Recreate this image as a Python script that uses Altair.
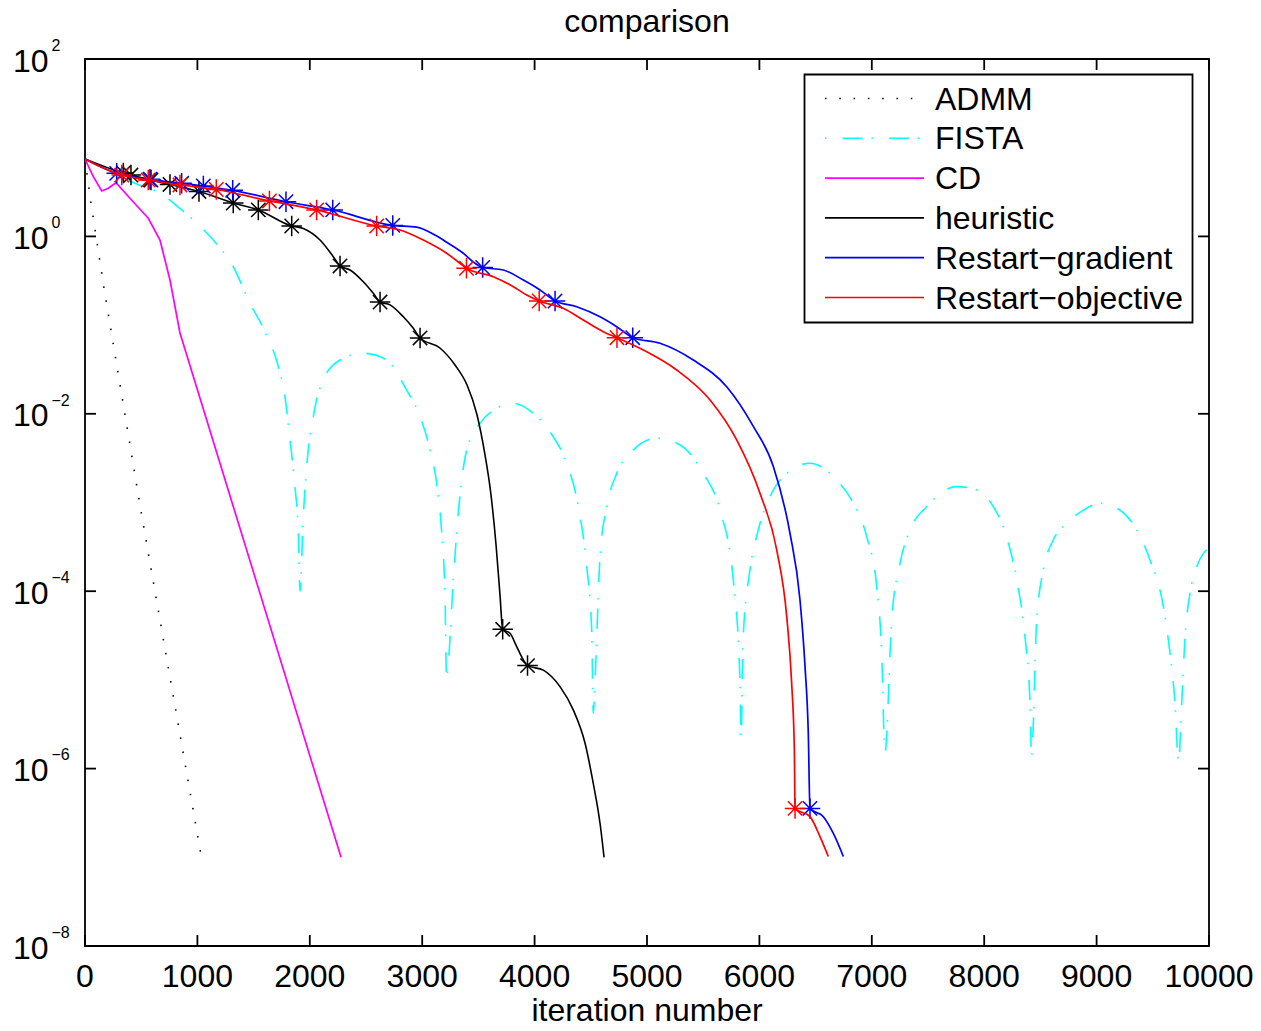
import altair as alt
import pandas as pd

# ---------------- data ----------------
series_names = ["ADMM", "FISTA", "CD", "heuristic", "Restart\u2212gradient", "Restart\u2212objective"]

admm_x = [0, 53, 169, 496, 1029]
admm_y = [7.46, 2.38, 0.262, 8.3e-4, 1.12e-7]

fista_x = [0, 222, 445, 667, 860, 994, 1141, 1319, 1468, 1601,
           1720, 1779, 1824, 1868, 1898, 1913, 1942, 1972, 2031, 2106,
           2269, 2476, 2684, 2862, 2981, 3070, 3129, 3174, 3203, 3216,
           3277, 3321, 3396, 3514, 3663, 3811, 3989, 4166, 4286, 4389,
           4464, 4508, 4522, 4538, 4582, 4642, 4731, 4878, 5086, 5294,
           5501, 5650, 5768, 5827, 5836, 5856, 5916, 5990, 6094, 6243,
           6450, 6688, 6835, 6955, 7044, 7088, 7117, 7177, 7251, 7340,
           7489, 7755, 7933, 8081, 8200, 8289, 8363, 8408, 8421, 8467,
           8526, 8615, 8734, 8882, 9030, 9208, 9357, 9475, 9594, 9653,
           9698, 9729, 9757, 9787, 9831, 9891, 9950, 10000]
fista_y = [7.46, 5.46, 3.97, 3.06, 1.99, 1.41, 0.91, 0.455, 0.176, 0.0843,
           0.034, 0.0156, 5.07e-3, 1.51e-3, 4.5e-4, 1.0e-4, 6.9e-4, 2.53e-3, 9.3e-3, 0.0221,
           0.0404, 0.0481, 0.0404, 0.0185, 9.3e-3, 3.9e-3, 1.64e-3, 4.5e-4, 8.7e-5, 1.08e-5,
           1.34e-4, 7.6e-4, 3.9e-3, 7.8e-3, 0.0115, 0.0131, 0.0101, 5.5e-3, 2.77e-3, 9.0e-4,
           1.89e-4, 3.66e-5, 4.2e-6, 1.0e-5, 2.45e-4, 9.0e-4, 2.13e-3, 3.9e-3, 5.3e-3, 4.45e-3,
           2.13e-3, 8.2e-4, 1.34e-4, 1.0e-5, 2.2e-6, 3.07e-5, 1.73e-4, 4.9e-4, 1.16e-3, 2.13e-3,
           2.77e-3, 1.79e-3, 9.8e-4, 4.1e-4, 1.12e-4, 2.0e-5, 1.5e-6, 4.7e-5, 2.06e-4, 4.9e-4,
           9.0e-4, 1.51e-3, 1.38e-3, 9.0e-4, 4.1e-4, 1.34e-4, 3.07e-5, 5.4e-6, 1.42e-6, 4.7e-5,
           1.73e-4, 3.8e-4, 5.8e-4, 8.2e-4, 9.8e-4, 8.2e-4, 4.9e-4, 2.25e-4, 6.7e-5, 2.0e-5,
           5.4e-6, 1.16e-6, 5.4e-6, 3.07e-5, 9.5e-5, 1.89e-4, 2.67e-4, 3.07e-4]

cd_x = [0, 74, 149, 207, 276, 400, 563, 667, 756, 845, 2278]
cd_y = [7.46, 4.71, 3.25, 3.49, 4.03, 2.69, 1.60, 0.91, 0.322, 0.0815, 1.0e-7]

heur_x = [0, 341, 409, 587, 756, 1014, 1319, 1542, 1839, 1942,
          2091, 2209, 2269, 2358, 2476, 2565, 2625, 2714, 2832, 2921,
          2981, 3158, 3292, 3399, 3488, 3559, 3612, 3657, 3692, 3716,
          3781, 3841, 3900, 3937, 4078, 4226, 4344, 4449, 4522, 4582,
          4618]
heur_y = [7.46, 5.19, 4.92, 4.32, 3.85, 3.21, 2.38, 1.99, 1.31, 1.23,
          0.91, 0.59, 0.464, 0.418, 0.308, 0.228, 0.182, 0.169, 0.124, 0.092,
          0.0716, 0.0552, 0.0355, 0.0211, 9.7e-3, 3.43e-3, 1.22e-3, 3.32e-4, 9.1e-5, 3.72e-5,
          3.35e-5, 2.37e-5, 1.68e-5, 1.45e-5, 1.29e-5, 8.4e-6, 4.6e-6, 1.93e-6, 6.8e-7, 2.42e-7,
          1.0e-7]
heur_star_x = [341, 409, 587, 756, 1014, 1319, 1542, 1839, 2269, 2625, 2981, 3716, 3937]
heur_star_y = [5.19, 4.92, 4.32, 3.85, 3.21, 2.38, 1.99, 1.31, 0.464, 0.182, 0.0716, 3.72e-5, 1.45e-5]

rg_x = [0, 282, 578, 860, 1053, 1314, 1788, 2204, 2738, 2951,
        3117, 3236, 3366, 3470, 3538, 3722, 3900, 4048, 4182, 4375,
        4582, 4730, 4873, 5116, 5412, 5709, 5946, 6124, 6272, 6361,
        6406, 6435, 6450, 6569, 6658, 6747]
rg_y = [7.46, 5.14, 4.40, 3.97, 3.70, 3.31, 2.46, 1.99, 1.33, 1.27,
        1.03, 0.83, 0.645, 0.498, 0.446, 0.418, 0.322, 0.249, 0.187, 0.161,
        0.124, 0.096, 0.0721, 0.0624, 0.0404, 0.0202, 7.2e-3, 2.54e-3, 4.5e-4, 8.0e-5,
        1.41e-5, 2.5e-6, 3.56e-7, 2.87e-7, 1.86e-7, 1.02e-7]
rg_star_x = [282, 578, 860, 1053, 1314, 1788, 2204, 2738, 3538, 4182, 4873, 6450]
rg_star_y = [5.14, 4.40, 3.97, 3.70, 3.31, 2.46, 1.99, 1.33, 0.446, 0.187, 0.0721, 3.56e-7]

ro_x = [0, 327, 563, 845, 1168, 1641, 2061, 2595, 2803, 3010,
        3218, 3336, 3394, 3633, 3811, 3930, 4041, 4255, 4433, 4611,
        4733, 4967, 5264, 5561, 5798, 6005, 6154, 6243, 6287, 6311,
        6317, 6450, 6539, 6613]
ro_y = [7.46, 4.92, 4.32, 3.80, 3.38, 2.51, 1.99, 1.31, 1.18, 0.91,
        0.645, 0.498, 0.437, 0.351, 0.271, 0.218, 0.187, 0.155, 0.114, 0.0843,
        0.0721, 0.0524, 0.0312, 0.0143, 5.07e-3, 1.27e-3, 2.92e-4, 5.2e-5, 9.2e-6, 1.62e-6,
        3.56e-7, 2.87e-7, 1.71e-7, 1.02e-7]
ro_star_x = [327, 563, 845, 1168, 1641, 2061, 2595, 3394, 4041, 4733, 6317]
ro_star_y = [4.92, 4.32, 3.80, 3.38, 2.51, 1.99, 1.31, 0.437, 0.187, 0.0721, 3.56e-7]

xtick_values = [0, 1000, 2000, 3000, 4000, 5000, 6000, 7000, 8000, 9000, 10000]
xtick_labels = ["0", "1000", "2000", "3000", "4000", "5000", "6000", "7000", "8000", "9000", "10000"]
ytick_values = [1e2, 1e0, 1e-2, 1e-4, 1e-6, 1e-8]
ytick_exponents = ["2", "0", "\u22122", "\u22124", "\u22126", "\u22128"]

title_text = "comparison"
xlabel_text = "iteration number"

# ---------------- styling ----------------
W, H = 1124, 887
FONT = "Liberation Sans"
FS = 32
AXW = 1.8
colors = ["#000000", "#00FFFF", "#FF00FF", "#000000", "#0000FF", "#FF0000"]
dashes = [[1.5, 12.8], [20, 9, 1.5, 16], None, None, None, None]
legend_dash_offset = [0, 29, 0, 0, 0, 0]
widths = [1.6, 1.6, 1.7, 1.6, 1.7, 1.7]
STAR = "M-1,0L1,0M0,-1L0,1M-0.7,-0.7L0.7,0.7M-0.7,0.7L0.7,-0.7"

xscale = alt.Scale(domain=[0, 10000], nice=False, zero=False)
yscale = alt.Scale(type="log", domain=[1e-8, 1e2], nice=False)


def frame(xs, ys):
    assert len(xs) == len(ys)
    return pd.DataFrame({"x": xs, "y": ys, "i": list(range(len(xs)))})


def line(xs, ys, k, interp):
    kw = dict(color=colors[k], strokeWidth=widths[k], interpolate=interp, clip=True)
    if dashes[k]:
        kw["strokeDash"] = dashes[k]
    return alt.Chart(frame(xs, ys)).mark_line(**kw).encode(
        x=alt.X("x:Q", scale=xscale, axis=None),
        y=alt.Y("y:Q", scale=yscale, axis=None),
        order="i:Q",
    )


def stars(xs, ys, k):
    return alt.Chart(frame(xs, ys)).mark_point(
        shape=STAR, size=420, filled=False, color=colors[k],
        strokeWidth=1.5, opacity=1).encode(
        x=alt.X("x:Q", scale=xscale, axis=None),
        y=alt.Y("y:Q", scale=yscale, axis=None),
    )


layers = [
    line(admm_x, admm_y, 0, "linear"),
    line(fista_x, fista_y, 1, "monotone"),
    line(cd_x, cd_y, 2, "linear"),
    line(heur_x, heur_y, 3, "monotone"),
    stars(heur_star_x, heur_star_y, 3),
    line(rg_x, rg_y, 4, "monotone"),
    stars(rg_star_x, rg_star_y, 4),
    line(ro_x, ro_y, 5, "monotone"),
    stars(ro_star_x, ro_star_y, 5),
]

# ---------------- ticks (inward, on all four sides) ----------------
TL = 11
xt = pd.DataFrame({"v": xtick_values, "lab": xtick_labels})
yt = pd.DataFrame({"v": ytick_values, "e": ytick_exponents, "base": ["10"] * len(ytick_values)})
xenc = alt.X("v:Q", scale=xscale, axis=None)
yenc = alt.Y("v:Q", scale=yscale, axis=None)

layers += [
    alt.Chart(xt).mark_rule(color="black", strokeWidth=AXW).encode(x=xenc, y=alt.value(H), y2=alt.value(H - TL)),
    alt.Chart(xt).mark_rule(color="black", strokeWidth=AXW).encode(x=xenc, y=alt.value(0), y2=alt.value(TL)),
    alt.Chart(yt).mark_rule(color="black", strokeWidth=AXW).encode(y=yenc, x=alt.value(0), x2=alt.value(TL)),
    alt.Chart(yt).mark_rule(color="black", strokeWidth=AXW).encode(y=yenc, x=alt.value(W - TL), x2=alt.value(W)),
    alt.Chart(xt).mark_text(align="center", baseline="alphabetic", font=FONT, fontSize=FS, color="black").encode(
        x=xenc, y=alt.value(H + 41), text="lab:N"),
    alt.Chart(yt).mark_text(align="right", baseline="alphabetic", font=FONT, fontSize=FS, color="black", dy=12.5).encode(
        y=yenc, x=alt.value(-36.5), text="base:N"),
    alt.Chart(yt).mark_text(align="left", baseline="alphabetic", font=FONT, fontSize=16, color="black", dy=-8.3).encode(
        y=yenc, x=alt.value(-33.5), text="e:N"),
    alt.Chart(pd.DataFrame({"t": [title_text]})).mark_text(
        align="center", baseline="alphabetic", font=FONT, fontSize=FS, color="black").encode(
        x=alt.value(W / 2), y=alt.value(-27), text="t:N"),
    alt.Chart(pd.DataFrame({"t": [xlabel_text]})).mark_text(
        align="center", baseline="alphabetic", font=FONT, fontSize=FS, color="black").encode(
        x=alt.value(W / 2), y=alt.value(H + 75), text="t:N"),
]

# ---------------- legend (drawn inside the plot, top right) ----------------
LX0, LX1, LY0, LY1 = 719.5, 1107.5, 15.5, 263.5
layers.append(
    alt.Chart(pd.DataFrame({"a": [0]})).mark_rect(fill="white", stroke="black", strokeWidth=AXW).encode(
        x=alt.value(LX0), x2=alt.value(LX1), y=alt.value(LY0), y2=alt.value(LY1))
)
for k, name in enumerate(series_names):
    yy = 39.5 + 39.8 * k
    rk = dict(color=colors[k], strokeWidth=widths[k])
    if dashes[k]:
        rk["strokeDash"] = dashes[k]
        rk["strokeDashOffset"] = legend_dash_offset[k]
    d = pd.DataFrame({"name": [name]})
    layers.append(alt.Chart(d).mark_rule(**rk).encode(
        x=alt.value(740), x2=alt.value(839), y=alt.value(yy)))
    layers.append(alt.Chart(d).mark_text(align="left", baseline="alphabetic", font=FONT,
                                         fontSize=FS, color="black").encode(
        x=alt.value(850), y=alt.value(yy + 11), text="name:N"))

chart = alt.layer(*layers).properties(
    width=W, height=H,
    autosize=alt.AutoSizeParams(type="none"),
    padding={"left": 77, "top": 51, "right": 44, "bottom": 77},
    background="white",
).configure_view(stroke="black", strokeWidth=AXW)

chart.save("out.html", embed_options={"renderer": "svg", "actions": False})
